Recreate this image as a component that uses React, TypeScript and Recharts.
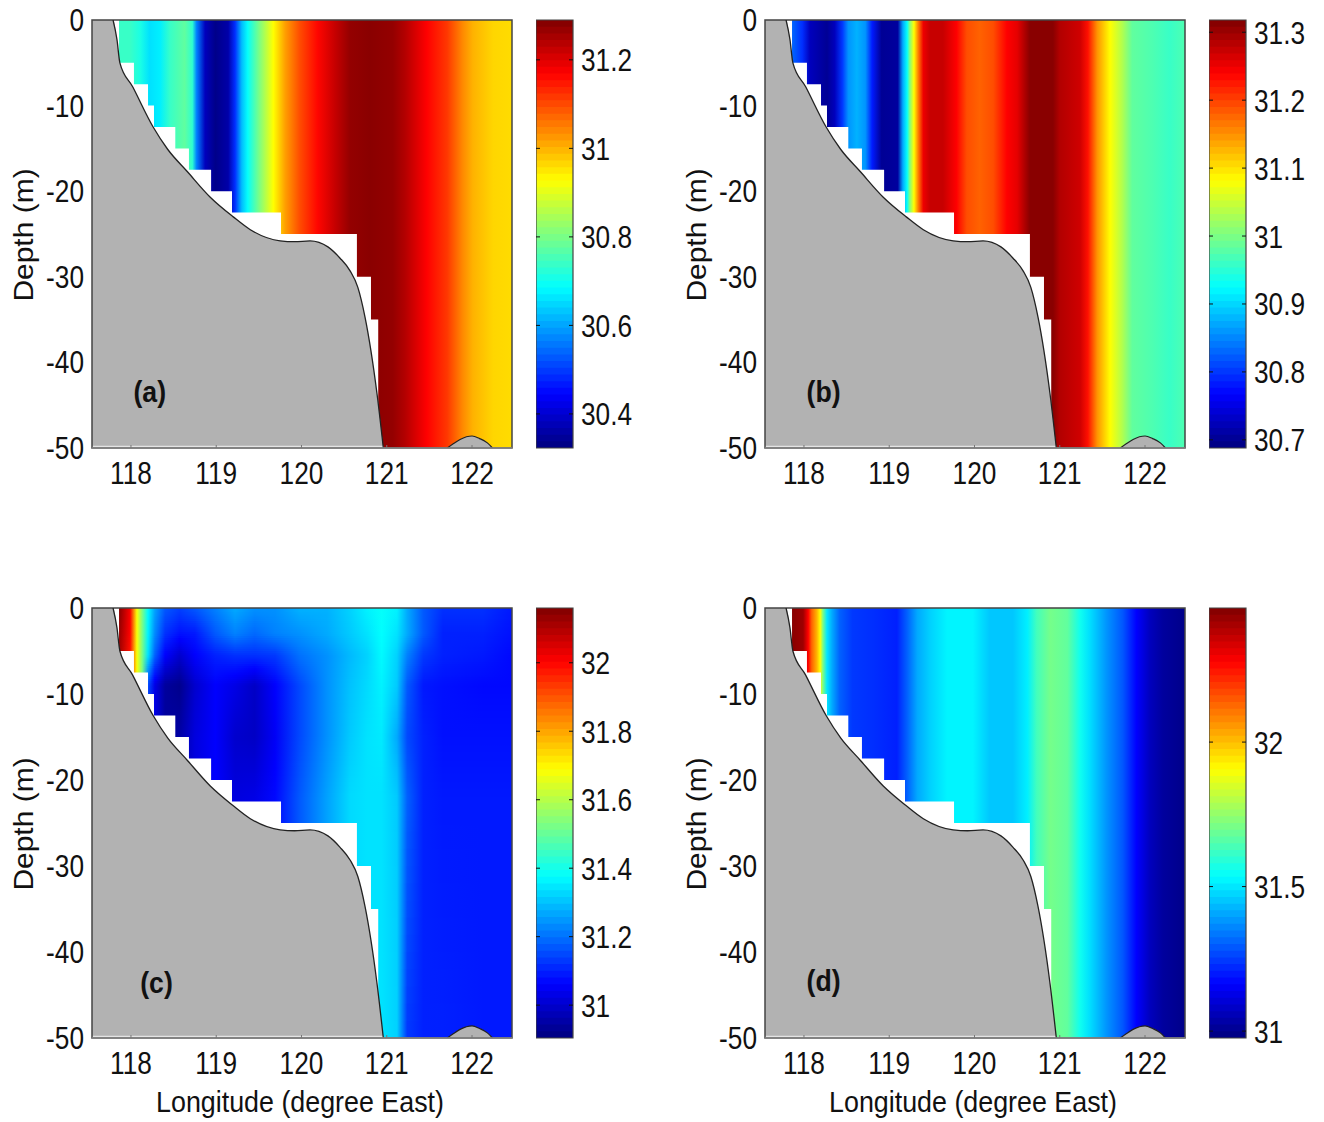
import React from 'react';
import { ComposedChart, XAxis, YAxis, Area, Line, ReferenceArea, ReferenceDot, ReferenceLine } from 'recharts';

const FONT = '"Liberation Sans", Arial, sans-serif';
const X_MIN = 117.543;
const X_MAX = 122.469;
const lonTicks = [118, 119, 120, 121, 122];
const depthTicks = [0, -10, -20, -30, -40, -50];

// Lower edge of the model grid
const stairLon = [117.543, 117.86, 118.035, 118.2, 118.27, 118.52, 118.68, 118.94, 119.185, 119.76, 120.65, 120.815, 120.9];
const stairDepth = [0, -5, -7.5, -10, -12.5, -15, -17.5, -20, -22.5, -25, -30, -35, -50];
// Sea floor
const bedLon = [117.79, 117.836, 117.87, 118.02, 118.26, 118.43, 118.66, 118.93, 119.2, 119.4, 119.75, 119.92, 120.1, 120.31, 120.45, 120.57, 120.66, 120.745, 120.885, 120.96];
const bedDepth = [0, -2.3, -5, -7.8, -12.5, -15.1, -17.7, -20.7, -23, -24.5, -25.8, -25.9, -25.8, -26.5, -27.8, -29.3, -31.2, -34.7, -43.6, -50];
const bumpLon = [121.71, 121.78, 121.86, 122, 122.09, 122.18, 122.24];
const bumpDepth = [-50, -49.5, -49.0, -48.6, -48.9, -49.4, -50];

// Panel (a)
const lonA = [117.86, 117.99, 118.11, 118.22, 118.34, 118.46, 118.63, 118.72, 118.77, 118.87, 118.99, 119.14, 119.22, 119.3, 119.37, 119.51, 119.67, 119.81, 119.98, 120.19, 120.39, 120.57, 120.8, 121.07, 121.21, 121.47, 121.71, 121.89, 122.01, 122.25, 122.47];
const salA = [30.739, 30.739, 30.71, 30.657, 30.671, 30.739, 30.777, 30.729, 30.565, 30.381, 30.333, 30.362, 30.487, 30.623, 30.69, 30.807, 30.927, 31.019, 31.097, 31.164, 31.222, 31.271, 31.28, 31.271, 31.242, 31.169, 31.116, 31.039, 31.0, 30.966, 30.961];
// Panel (b)
const lonB = [117.87, 117.98, 118.07, 118.27, 118.36, 118.45, 118.52, 118.62, 118.72, 118.8, 118.91, 119.1, 119.16, 119.21, 119.24, 119.29, 119.34, 119.4, 119.48, 119.63, 119.79, 119.91, 120.06, 120.22, 120.38, 120.5, 120.65, 120.92, 121.0, 121.24, 121.33, 121.44, 121.59, 121.73, 121.85, 122.09, 122.29, 122.46];
const salB = [30.827, 30.795, 30.726, 30.701, 30.726, 30.801, 30.858, 30.877, 30.858, 30.783, 30.701, 30.707, 30.871, 30.927, 31.003, 31.082, 31.161, 31.249, 31.274, 31.274, 31.239, 31.192, 31.179, 31.192, 31.239, 31.255, 31.312, 31.312, 31.287, 31.268, 31.23, 31.148, 31.082, 31.035, 30.984, 30.972, 30.959, 30.972];
// Panel (d)
const lonD = [117.87, 117.99, 118.05, 118.09, 118.15, 118.19, 118.22, 118.27, 118.33, 118.42, 118.57, 118.81, 119.09, 119.21, 119.33, 119.48, 119.68, 119.98, 120.18, 120.45, 120.62, 120.73, 120.89, 121.09, 121.24, 121.35, 121.55, 121.74, 121.9, 122.06, 122.21, 122.46];
const salD = [32.449, 32.419, 32.278, 32.137, 32.018, 31.906, 31.72, 31.497, 31.408, 31.303, 31.244, 31.229, 31.207, 31.303, 31.408, 31.467, 31.519, 31.519, 31.452, 31.452, 31.512, 31.631, 31.705, 31.675, 31.556, 31.489, 31.378, 31.288, 31.162, 31.065, 31.021, 30.991];
// Panel (c): varies with depth too
const lonC = [117.86, 117.99, 118.07, 118.13, 118.2, 118.28, 118.4, 118.57, 118.75, 118.99, 119.22, 119.45, 119.69, 119.98, 120.3, 120.57, 120.77, 120.94, 121.12, 121.24, 121.43, 121.66, 122.13, 122.47];
const depthC = [0, -3, -5.5, -9, -15, -22, -50];
const salC0 = [32.15, 32.01, 31.68, 31.53, 31.37, 31.26, 31.17, 31.14, 31.17, 31.22, 31.27, 31.24, 31.24, 31.28, 31.28, 31.32, 31.36, 31.38, 31.36, 31.27, 31.17, 31.12, 31.12, 31.09];
const salC3 = [32.13, 32.0, 31.68, 31.53, 31.36, 31.23, 31.12, 31.08, 31.09, 31.17, 31.22, 31.19, 31.22, 31.24, 31.27, 31.31, 31.34, 31.375, 31.34, 31.27, 31.17, 31.1, 31.1, 31.08];
const salC5 = [32.12, 31.98, 31.68, 31.53, 31.34, 31.18, 31.06, 31.0, 31.06, 31.1, 31.12, 31.12, 31.13, 31.2, 31.24, 31.29, 31.32, 31.37, 31.32, 31.22, 31.13, 31.1, 31.09, 31.07];
const salC9 = [32.1, 31.97, 31.68, 31.53, 31.15, 31.03, 30.94, 30.92, 31.0, 31.06, 31.03, 30.99, 31.06, 31.15, 31.24, 31.3, 31.33, 31.36, 31.31, 31.17, 31.09, 31.08, 31.07, 31.07];
const salC15 = [32.1, 31.97, 31.68, 31.53, 31.15, 31.03, 30.94, 30.95, 31.02, 31.06, 31.0, 30.99, 31.05, 31.15, 31.24, 31.31, 31.34, 31.35, 31.27, 31.15, 31.1, 31.08, 31.08, 31.08];
const salC22 = [32.1, 31.97, 31.68, 31.53, 31.15, 31.03, 30.94, 30.95, 31.02, 31.06, 31.02, 31.03, 31.07, 31.17, 31.26, 31.33, 31.34, 31.34, 31.31, 31.18, 31.1, 31.09, 31.09, 31.09];
const salC50 = [32.1, 31.97, 31.68, 31.53, 31.15, 31.03, 30.94, 30.95, 31.02, 31.06, 31.02, 31.03, 31.07, 31.17, 31.26, 31.33, 31.34, 31.34, 31.32, 31.13, 31.1, 31.1, 31.09, 31.09];

const climA: [number, number] = [30.323, 31.29];
const climB: [number, number] = [30.688, 31.318];
const climC: [number, number] = [30.904, 32.16];
const climD: [number, number] = [30.976, 32.464];
const ticksA = [30.4, 30.6, 30.8, 31, 31.2];
const ticksB = [30.7, 30.8, 30.9, 31, 31.1, 31.2, 31.3];
const ticksC = [31, 31.2, 31.4, 31.6, 31.8, 32];
const ticksD = [31, 31.5, 32];

const stairData = stairLon.map((lon, i) => ({ lon, range: [stairDepth[i], -50] }));
const bedData = [{ lon: X_MIN, depth: 0, range: [0, -50] }, ...bedLon.map((lon, i) => ({ lon, depth: bedDepth[i], range: [bedDepth[i], -50] }))];
const bumpData = bumpLon.map((lon, i) => ({ lon, depth: bumpDepth[i], range: [bumpDepth[i], -50] }));

const clamp = (v: number) => Math.max(0, Math.min(1, v));
function jet(t: number): string {
  const r = clamp(Math.min(4 * t - 1.5, -4 * t + 4.5));
  const g = clamp(Math.min(4 * t - 0.5, -4 * t + 3.5));
  const b = clamp(Math.min(4 * t + 0.5, -4 * t + 2.5));
  return `rgb(${Math.round(r * 255)},${Math.round(g * 255)},${Math.round(b * 255)})`;
}

type Row = { top: number; bottom: number; values: number[] };

function bandsOf(depths: number[], table: number[][]): Row[] {
  const out: Row[] = [];
  let d = 0;
  while (d > -50) {
    const step = d > -26 ? 0.25 : 2;
    const next = Math.max(-50, d - step);
    const mid = (d + next) / 2;
    let k = 0;
    while (k < depths.length - 2 && mid < depths[k + 1]) k++;
    const f = (depths[k] - mid) / (depths[k] - depths[k + 1]);
    out.push({ top: d, bottom: next, values: table[k].map((v, i) => v + (table[k + 1][i] - v) * f) });
    d = next;
  }
  return out;
}

const txt = (extra: any) => ({ fontFamily: FONT, fill: '#111', ...extra });

const XTick = ({ x, y, payload }: any) => (
  <g>
    <line x1={x} x2={x} y1={y - 3} y2={y} stroke="#777" strokeWidth={1} />
    <text {...txt({ fontSize: 32, textAnchor: 'middle' })} transform={`translate(${x} ${y + 36}) scale(0.82 1)`}>{payload.value}</text>
  </g>
);
const YTick = ({ x, y, payload }: any) => (
  <text {...txt({ fontSize: 32, textAnchor: 'end' })} transform={`translate(${x - 8} ${y + 11}) scale(0.82 1)`}>{payload.value}</text>
);

function Panel({ id, left, top, plotH, lons, rows, clim, tag, tagAt, showX }: any) {
  const H = plotH + 20 + 80;
  return (
    <div style={{ position: 'absolute', left, top }}>
      <ComposedChart width={530} height={H} margin={{ top: 20, left: 0, right: 18, bottom: 0 }} data={bedData}>
        <defs>
          {rows.map((row: Row, r: number) => (
            <linearGradient key={r} id={`${id}-${r}`} x1="0" y1="0" x2="1" y2="0">
              {lons.map((lon: number, i: number) => (
                <stop key={i} offset={(lon - X_MIN) / (X_MAX - X_MIN)} stopColor={jet((row.values[i] - clim[0]) / (clim[1] - clim[0]))} />
              ))}
            </linearGradient>
          ))}
        </defs>
        <XAxis dataKey="lon" type="number" domain={[X_MIN, X_MAX]} allowDataOverflow ticks={lonTicks} height={80} tick={XTick} tickLine={false} axisLine={false} tickSize={0} tickMargin={0} interval={0} />
        <YAxis type="number" domain={[-50, 0]} allowDataOverflow ticks={depthTicks} width={92} tick={YTick} tickLine={false} axisLine={false} tickSize={0} tickMargin={0} interval={0} />
        {rows.map((row: Row, r: number) => (
          <ReferenceArea key={r} x1={X_MIN} x2={X_MAX} y1={row.top} y2={row.bottom === -50 ? -50 : row.bottom - 0.1} fill={`url(#${id}-${r})`} fillOpacity={1} stroke="none" ifOverflow="hidden" />
        ))}
        <Area data={stairData} dataKey="range" type="stepAfter" fill="#ffffff" fillOpacity={1} stroke="none" isAnimationActive={false} dot={false} activeDot={false} />
        <Area data={bedData} dataKey="range" type="monotone" fill="#b2b2b2" fillOpacity={1} stroke="none" isAnimationActive={false} dot={false} activeDot={false} />
        <Area data={bumpData} dataKey="range" type="monotone" fill="#b2b2b2" fillOpacity={1} stroke="none" isAnimationActive={false} dot={false} activeDot={false} />
        <Line data={bedData.slice(1)} dataKey="depth" type="monotone" stroke="#222" strokeWidth={1.3} dot={false} activeDot={false} isAnimationActive={false} />
        <Line data={bumpData} dataKey="depth" type="monotone" stroke="#222" strokeWidth={1.2} dot={false} activeDot={false} isAnimationActive={false} />
        <ReferenceArea x1={X_MIN} x2={120.96} y1={-50} y2={-49.75} fill="#e4e4e4" fillOpacity={1} stroke="none" ifOverflow="hidden" />
        <ReferenceArea x1={X_MIN} x2={X_MAX} y1={-50} y2={0} fill="none" stroke="#444" strokeWidth={1.5} ifOverflow="visible" />
        <ReferenceLine y={-50} stroke="#8a8a8a" strokeWidth={1.5} />
        <ReferenceDot
          x={tagAt[0]}
          y={tagAt[1]}
          r={0}
          ifOverflow="visible"
          shape={(p: any) => (
            <text {...txt({ fontSize: 29, fontWeight: 700, textAnchor: 'middle' })} transform={`translate(${p.cx} ${p.cy + 9.5}) scale(0.92 1)`}>{tag}</text>
          )}
        />
      </ComposedChart>
      <svg width={530} height={H} style={{ position: 'absolute', left: 0, top: 0, pointerEvents: 'none' }}>
        <text {...txt({ fontSize: 30, textAnchor: 'middle' })} transform={`translate(33 ${plotH / 2 + 20 + 1}) scale(0.9 1) rotate(-90)`}>Depth (m)</text>
        {showX && (
          <text {...txt({ fontSize: 30, textAnchor: 'middle' })} transform={`translate(300 ${plotH + 20 + 74}) scale(0.895 1)`}>Longitude (degree East)</text>
        )}
      </svg>
    </div>
  );
}

const colorLevels = Array.from({ length: 64 }, (_, i) => i);

const BarTick = ({ x, y, payload }: any) => (
  <g>
    <line x1={x - 37} x2={x - 33} y1={y} y2={y} stroke="#111" strokeWidth={1} />
    <line x1={x - 4} x2={x} y1={y} y2={y} stroke="#111" strokeWidth={1} />
    <text {...txt({ fontSize: 32, textAnchor: 'start' })} transform={`translate(${x + 8} ${y + 11.5}) scale(0.82 1)`}>{payload.value}</text>
  </g>
);

function ColorBar({ left, top, plotH, clim, ticks }: any) {
  const [lo, hi] = clim;
  return (
    <div style={{ position: 'absolute', left, top }}>
      <ComposedChart width={137} height={plotH + 40} margin={{ top: 20, left: 0, right: 0, bottom: 20 }} data={[{ x: 0 }, { x: 1 }]}>
        <XAxis dataKey="x" type="number" domain={[0, 1]} hide />
        <YAxis orientation="right" type="number" domain={[lo, hi]} allowDataOverflow ticks={ticks} width={100} tick={BarTick} tickLine={false} axisLine={false} tickSize={0} tickMargin={0} interval={0} />
        {colorLevels.map((i) => (
          <ReferenceArea key={i} x1={0} x2={1} y1={lo + ((hi - lo) * i) / 64} y2={hi} fill={jet((i + 0.5) / 64)} fillOpacity={1} stroke="none" ifOverflow="hidden" />
        ))}
        <ReferenceArea x1={0} x2={1} y1={lo} y2={hi} fill="none" stroke="#444" strokeWidth={1.2} ifOverflow="visible" />
      </ComposedChart>
    </div>
  );
}

export default function App() {
  const rowsC = bandsOf(depthC, [salC0, salC3, salC5, salC9, salC15, salC22, salC50]);
  const one = (v: number[]): Row[] => [{ top: 0, bottom: -50, values: v }];
  return (
    <div style={{ position: 'absolute', left: 0, top: 0, width: 1324, height: 1122, background: '#fff', overflow: 'hidden' }}>
      <Panel id="pa" left={0} top={0} plotH={428} lons={lonA} rows={one(salA)} clim={climA} tag="(a)" tagAt={[118.22, -43.5]} />
      <ColorBar left={536} top={0} plotH={428} clim={climA} ticks={ticksA} />
      <Panel id="pb" left={673} top={0} plotH={428} lons={lonB} rows={one(salB)} clim={climB} tag="(b)" tagAt={[118.23, -43.5]} />
      <ColorBar left={1209} top={0} plotH={428} clim={climB} ticks={ticksB} />
      <Panel id="pc" left={0} top={588} plotH={430} lons={lonC} rows={rowsC} clim={climC} tag="(c)" tagAt={[118.3, -43.7]} showX />
      <ColorBar left={536} top={588} plotH={430} clim={climC} ticks={ticksC} />
      <Panel id="pd" left={673} top={588} plotH={430} lons={lonD} rows={one(salD)} clim={climD} tag="(d)" tagAt={[118.23, -43.4]} showX />
      <ColorBar left={1209} top={588} plotH={430} clim={climD} ticks={ticksD} />
    </div>
  );
}
